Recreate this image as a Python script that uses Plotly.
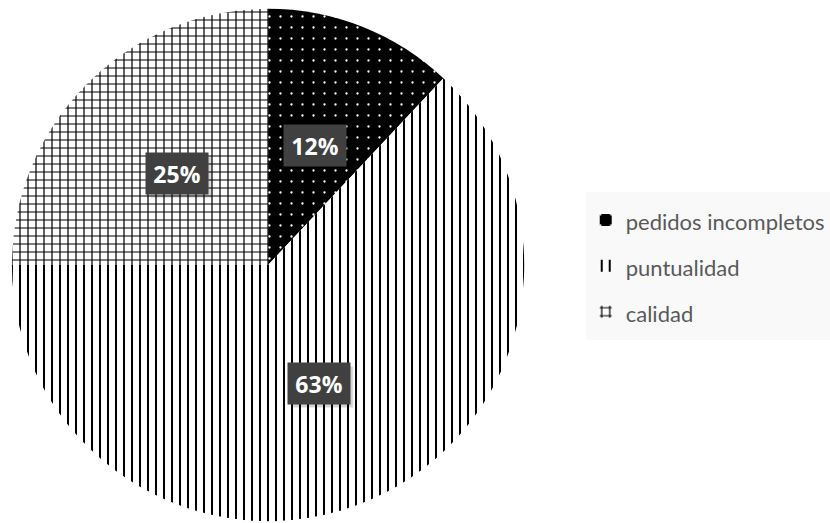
import math
import plotly.graph_objects as go

# Share of complaints by cause
labels = ["pedidos incompletos", "puntualidad", "calidad"]
values = [12, 63, 25]
pct_text = ["12%", "63%", "25%"]

W, H = 830, 523
cx, cy, R = 270, 265, 258  # pie centre and radius in pixels
BOX_W, BOX_H = 62, 41       # label box size in pixels

fig = go.Figure(
    go.Pie(
        labels=['<span style="font-size:22px;baseline-shift:3px">%s</span>' % s for s in labels],
        values=values,
        sort=False,
        direction="clockwise",
        rotation=0,
        textinfo="none",
        hoverinfo="percent",
        marker=dict(
            colors=["black", "white", "white"],
            line=dict(width=0),
            pattern=dict(
                shape=[".", "|", "+"],
                bgcolor=["black", "white", "white"],
                fgcolor=["white", "black", "black"],
                size=[11, 8, 8],
                solidity=[0.035, 0.25, 0.28],
                fillmode="replace",
            ),
        ),
        domain=dict(x=[(cx - R) / W, (cx + R) / W], y=[1 - (cy + R) / H, 1 - (cy - R) / H]),
    )
)

# Percentage labels in dark boxes at half radius along each slice's mid-angle
total = sum(values)
cum = 0
annotations, shapes = [], []
for v, t in zip(values, pct_text):
    mid = (cum + v / 2) / total * 2 * math.pi
    cum += v
    px = cx + 0.5 * R * math.sin(mid)
    py = cy - 0.5 * R * math.cos(mid)
    # soft drop shadow behind the box
    for off, alpha in ((4, 0.07), (3, 0.10)):
        shapes.append(dict(
            type="rect", xref="paper", yref="paper", layer="above",
            x0=(px - BOX_W / 2 + off) / W, x1=(px + BOX_W / 2 + off) / W,
            y0=1 - (py + BOX_H / 2 + off) / H, y1=1 - (py - BOX_H / 2 + off) / H,
            fillcolor="rgba(0,0,0,%s)" % alpha, line=dict(width=0),
        ))
    annotations.append(dict(
        x=px / W, y=1 - py / H, xref="paper", yref="paper",
        xanchor="center", yanchor="middle",
        text="<b>%s</b>" % t, showarrow=False,
        width=BOX_W - 2, height=BOX_H - 2, borderpad=1,
        bgcolor="#404040", font=dict(size=23, color="white", family="Open Sans"),
    ))

fig.update_layout(
    width=W, height=H,
    margin=dict(l=0, r=0, t=0, b=0),
    paper_bgcolor="white",
    showlegend=True,
    legend=dict(
        x=590 / W, xanchor="left", y=1 - 192 / H, yanchor="top",
        bgcolor="#f9f9f9", borderwidth=0,
        font=dict(size=33, color="#595959", family="Lato"),
        traceorder="normal",
    ),
    annotations=annotations,
    shapes=shapes,
)

fig.write_html("out.html")
